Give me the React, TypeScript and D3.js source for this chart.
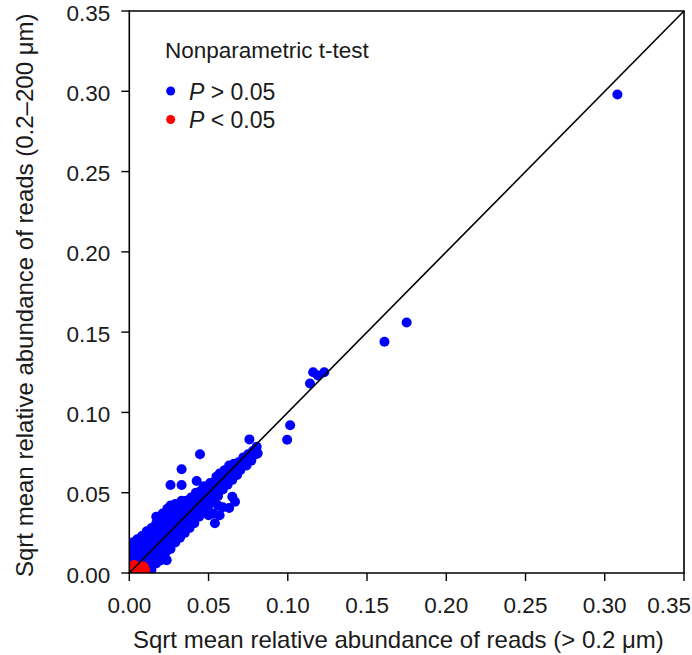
import React from "react";
import * as d3 from "d3";

// Tick values
const xTicks = [0, 0.05, 0.1, 0.15, 0.2, 0.25, 0.3, 0.35];
const yTicks = [0, 0.05, 0.1, 0.15, 0.2, 0.25, 0.3, 0.35];

// Blue points (P > 0.05), main band near the origin: [x, y]
const blueBand: [number, number][] = [
  [0.002, 0.004], [0.002, 0.008], [0.002, 0.012], [0.002, 0.016], [0.002, 0.019],
  [0.005, 0.002], [0.005, 0.006], [0.005, 0.010], [0.005, 0.014], [0.005, 0.018], [0.005, 0.021],
  [0.008, 0.003], [0.008, 0.007], [0.008, 0.011], [0.008, 0.015], [0.008, 0.019], [0.008, 0.023],
  [0.011, 0.002], [0.011, 0.006], [0.011, 0.010], [0.011, 0.014], [0.011, 0.018], [0.011, 0.022], [0.011, 0.026],
  [0.014, 0.002], [0.014, 0.007], [0.014, 0.011], [0.014, 0.015], [0.014, 0.019], [0.014, 0.023], [0.014, 0.028],
  [0.017, 0.006], [0.017, 0.010], [0.017, 0.014], [0.017, 0.018], [0.017, 0.022], [0.017, 0.026], [0.017, 0.031], [0.017, 0.035],
  [0.020, 0.008], [0.020, 0.012], [0.020, 0.016], [0.020, 0.020], [0.020, 0.024], [0.020, 0.028], [0.020, 0.032], [0.021, 0.037],
  [0.0236, 0.008], [0.023, 0.013], [0.023, 0.017], [0.023, 0.021], [0.023, 0.025], [0.023, 0.029], [0.023, 0.033], [0.023, 0.037], [0.024, 0.040],
  [0.026, 0.015], [0.026, 0.019], [0.026, 0.023], [0.026, 0.027], [0.026, 0.031], [0.026, 0.035], [0.026, 0.039], [0.026, 0.042],
  [0.029, 0.019], [0.029, 0.023], [0.029, 0.027], [0.029, 0.031], [0.029, 0.035], [0.029, 0.039], [0.029, 0.043],
  [0.032, 0.022], [0.032, 0.026], [0.032, 0.030], [0.032, 0.034], [0.032, 0.038], [0.032, 0.042], [0.033, 0.045],
  [0.035, 0.025], [0.035, 0.029], [0.035, 0.033], [0.035, 0.037], [0.035, 0.041], [0.036, 0.045],
  [0.038, 0.028], [0.038, 0.032], [0.038, 0.036], [0.038, 0.040], [0.038, 0.044], [0.039, 0.047],
  [0.041, 0.031], [0.041, 0.035], [0.041, 0.039], [0.041, 0.043], [0.041, 0.047], [0.042, 0.050],
  [0.044, 0.035], [0.044, 0.039], [0.044, 0.043], [0.044, 0.047], [0.045, 0.051],
  [0.047, 0.038], [0.047, 0.042], [0.047, 0.046], [0.047, 0.050], [0.047, 0.054],
  [0.050, 0.036], [0.050, 0.042], [0.050, 0.046], [0.050, 0.050], [0.051, 0.054], [0.051, 0.056],
  [0.053, 0.037], [0.053, 0.045], [0.053, 0.049], [0.053, 0.053], [0.054, 0.057], [0.055, 0.060],
  [0.054, 0.031], [0.056, 0.042], [0.056, 0.048], [0.056, 0.052], [0.056, 0.056], [0.057, 0.060], [0.057, 0.062],
  [0.057, 0.036], [0.059, 0.041], [0.059, 0.052], [0.059, 0.056], [0.059, 0.060], [0.060, 0.064],
  [0.062, 0.055], [0.062, 0.059], [0.062, 0.063], [0.063, 0.067], [0.063, 0.0405],
  [0.065, 0.0475], [0.0667, 0.0444], [0.065, 0.058], [0.065, 0.062], [0.065, 0.066], [0.066, 0.068],
  [0.068, 0.061], [0.068, 0.065], [0.069, 0.069], [0.070, 0.064],
  [0.071, 0.066], [0.071, 0.070], [0.072, 0.072],
  [0.074, 0.067], [0.074, 0.071], [0.075, 0.074],
  [0.077, 0.070], [0.077, 0.073], [0.078, 0.076],
  [0.080, 0.074], [0.081, 0.0745], [0.0804, 0.0786]
];

// Blue outliers and the upper tail: [x, y]
const blueOutliers: [number, number][] = [
  [0.026, 0.0548], [0.033, 0.0548], [0.033, 0.0646], [0.0425, 0.0573], [0.0446, 0.074],
  [0.0758, 0.0832], [0.0996, 0.0830], [0.1015, 0.0920],
  [0.114, 0.118], [0.116, 0.125], [0.119, 0.123], [0.123, 0.125],
  [0.161, 0.144], [0.175, 0.156], [0.308, 0.298]
];

// Red points (P < 0.05): [x, y]
const redPoints: [number, number][] = [
  [0.001, 0.001], [0.003, 0.001], [0.005, 0.001], [0.007, 0.001], [0.009, 0.001],
  [0.002, 0.003], [0.004, 0.003], [0.006, 0.003], [0.008, 0.003], [0.010, 0.002],
  [0.003, 0.005], [0.005, 0.004], [0.007, 0.004], [0.009, 0.004]
];

const W = 692;
const H = 655;
const FONT = "'Liberation Sans', Arial, Helvetica, sans-serif";
const BLUE = "#0000ff";
const RED = "#ff0000";
const TXT = "#1a1a1a";

export default function App() {
  const x = d3.scaleLinear().domain([0, 0.35]).range([129.3, 684]);
  const y = d3.scaleLinear().domain([0, 0.35]).range([573, 11]);
  const fmt = d3.format(".2f");
  const r = 5;
  const x0 = x(0), x1 = x(0.35), y0 = y(0), y1 = y(0.35);
  const lastX = xTicks[xTicks.length - 1];

  return (
    <svg width={W} height={H} style={{ display: "block", position: "absolute", left: 0, top: 0 }} fontFamily={FONT}>
      <defs>
        <clipPath id="plotClip">
          <rect x={x0} y={y1} width={x1 - x0} height={y0 - y1} />
        </clipPath>
      </defs>
      <g clipPath="url(#plotClip)">
        {blueBand.concat(blueOutliers).map((d, i) => (
          <circle key={"b" + i} cx={x(d[0])} cy={y(d[1])} r={r} fill={BLUE} />
        ))}
        {redPoints.map((d, i) => (
          <circle key={"r" + i} cx={x(d[0])} cy={y(d[1])} r={r} fill={RED} />
        ))}
      </g>
      {/* 1:1 line */}
      <line x1={x(0)} y1={y(0)} x2={x(0.35)} y2={y(0.35)} stroke="#000" strokeWidth={1.6} />
      {/* frame */}
      <path d={`M${x0},${y1}H${x1}V${y0}`} fill="none" stroke="#000" strokeWidth={1.6} />
      <line x1={x0} y1={y1 - 0.8} x2={x0} y2={y0 + 0.8} stroke="#000" strokeWidth={1.6} />
      <line x1={x0 - 0.8} y1={y0} x2={x1 + 0.8} y2={y0} stroke="#000" strokeWidth={1.6} />
      {/* x ticks */}
      {xTicks.map((t) => (
        <g key={"xt" + t}>
          <line x1={x(t)} x2={x(t)} y1={y0} y2={y0 + 8} stroke="#000" strokeWidth={1.4} />
          <text
            x={t === lastX ? W - 1 : x(t)}
            y={y0 + 32.5}
            textAnchor={t === lastX ? "end" : "middle"}
            dominantBaseline="central"
            fontSize={22.5}
            fill={TXT}
          >
            {fmt(t)}
          </text>
        </g>
      ))}
      {/* y ticks */}
      {yTicks.map((t) => (
        <g key={"yt" + t}>
          <line x1={x0 - 8} x2={x0} y1={y(t)} y2={y(t)} stroke="#000" strokeWidth={1.4} />
          <text x={x0 - 19} y={y(t) + 2} textAnchor="end" dominantBaseline="central" fontSize={22.5} fill={TXT}>
            {fmt(t)}
          </text>
        </g>
      ))}
      {/* axis titles */}
      <text x={133} y={639} textAnchor="start" dominantBaseline="central" fontSize={24} fill={TXT}>
        Sqrt mean relative abundance of reads (&gt; 0.2 μm)
      </text>
      <text transform={`translate(24,577) rotate(-90)`} textAnchor="start" dominantBaseline="central" fontSize={24} fill={TXT}>
        Sqrt mean relative abundance of reads (0.2–200 μm)
      </text>
      {/* legend */}
      <text x={165} y={50.5} dominantBaseline="central" fontSize={22.5} fill={TXT}>Nonparametric t-test</text>
      <circle cx={170.7} cy={91} r={4.5} fill={BLUE} />
      <text x={189} y={92} dominantBaseline="central" fontSize={23} fill={TXT}>
        <tspan fontStyle="italic">P</tspan> &gt; 0.05
      </text>
      <circle cx={170.7} cy={119.5} r={4.5} fill={RED} />
      <text x={189} y={120.3} dominantBaseline="central" fontSize={23} fill={TXT}>
        <tspan fontStyle="italic">P</tspan> &lt; 0.05
      </text>
    </svg>
  );
}
